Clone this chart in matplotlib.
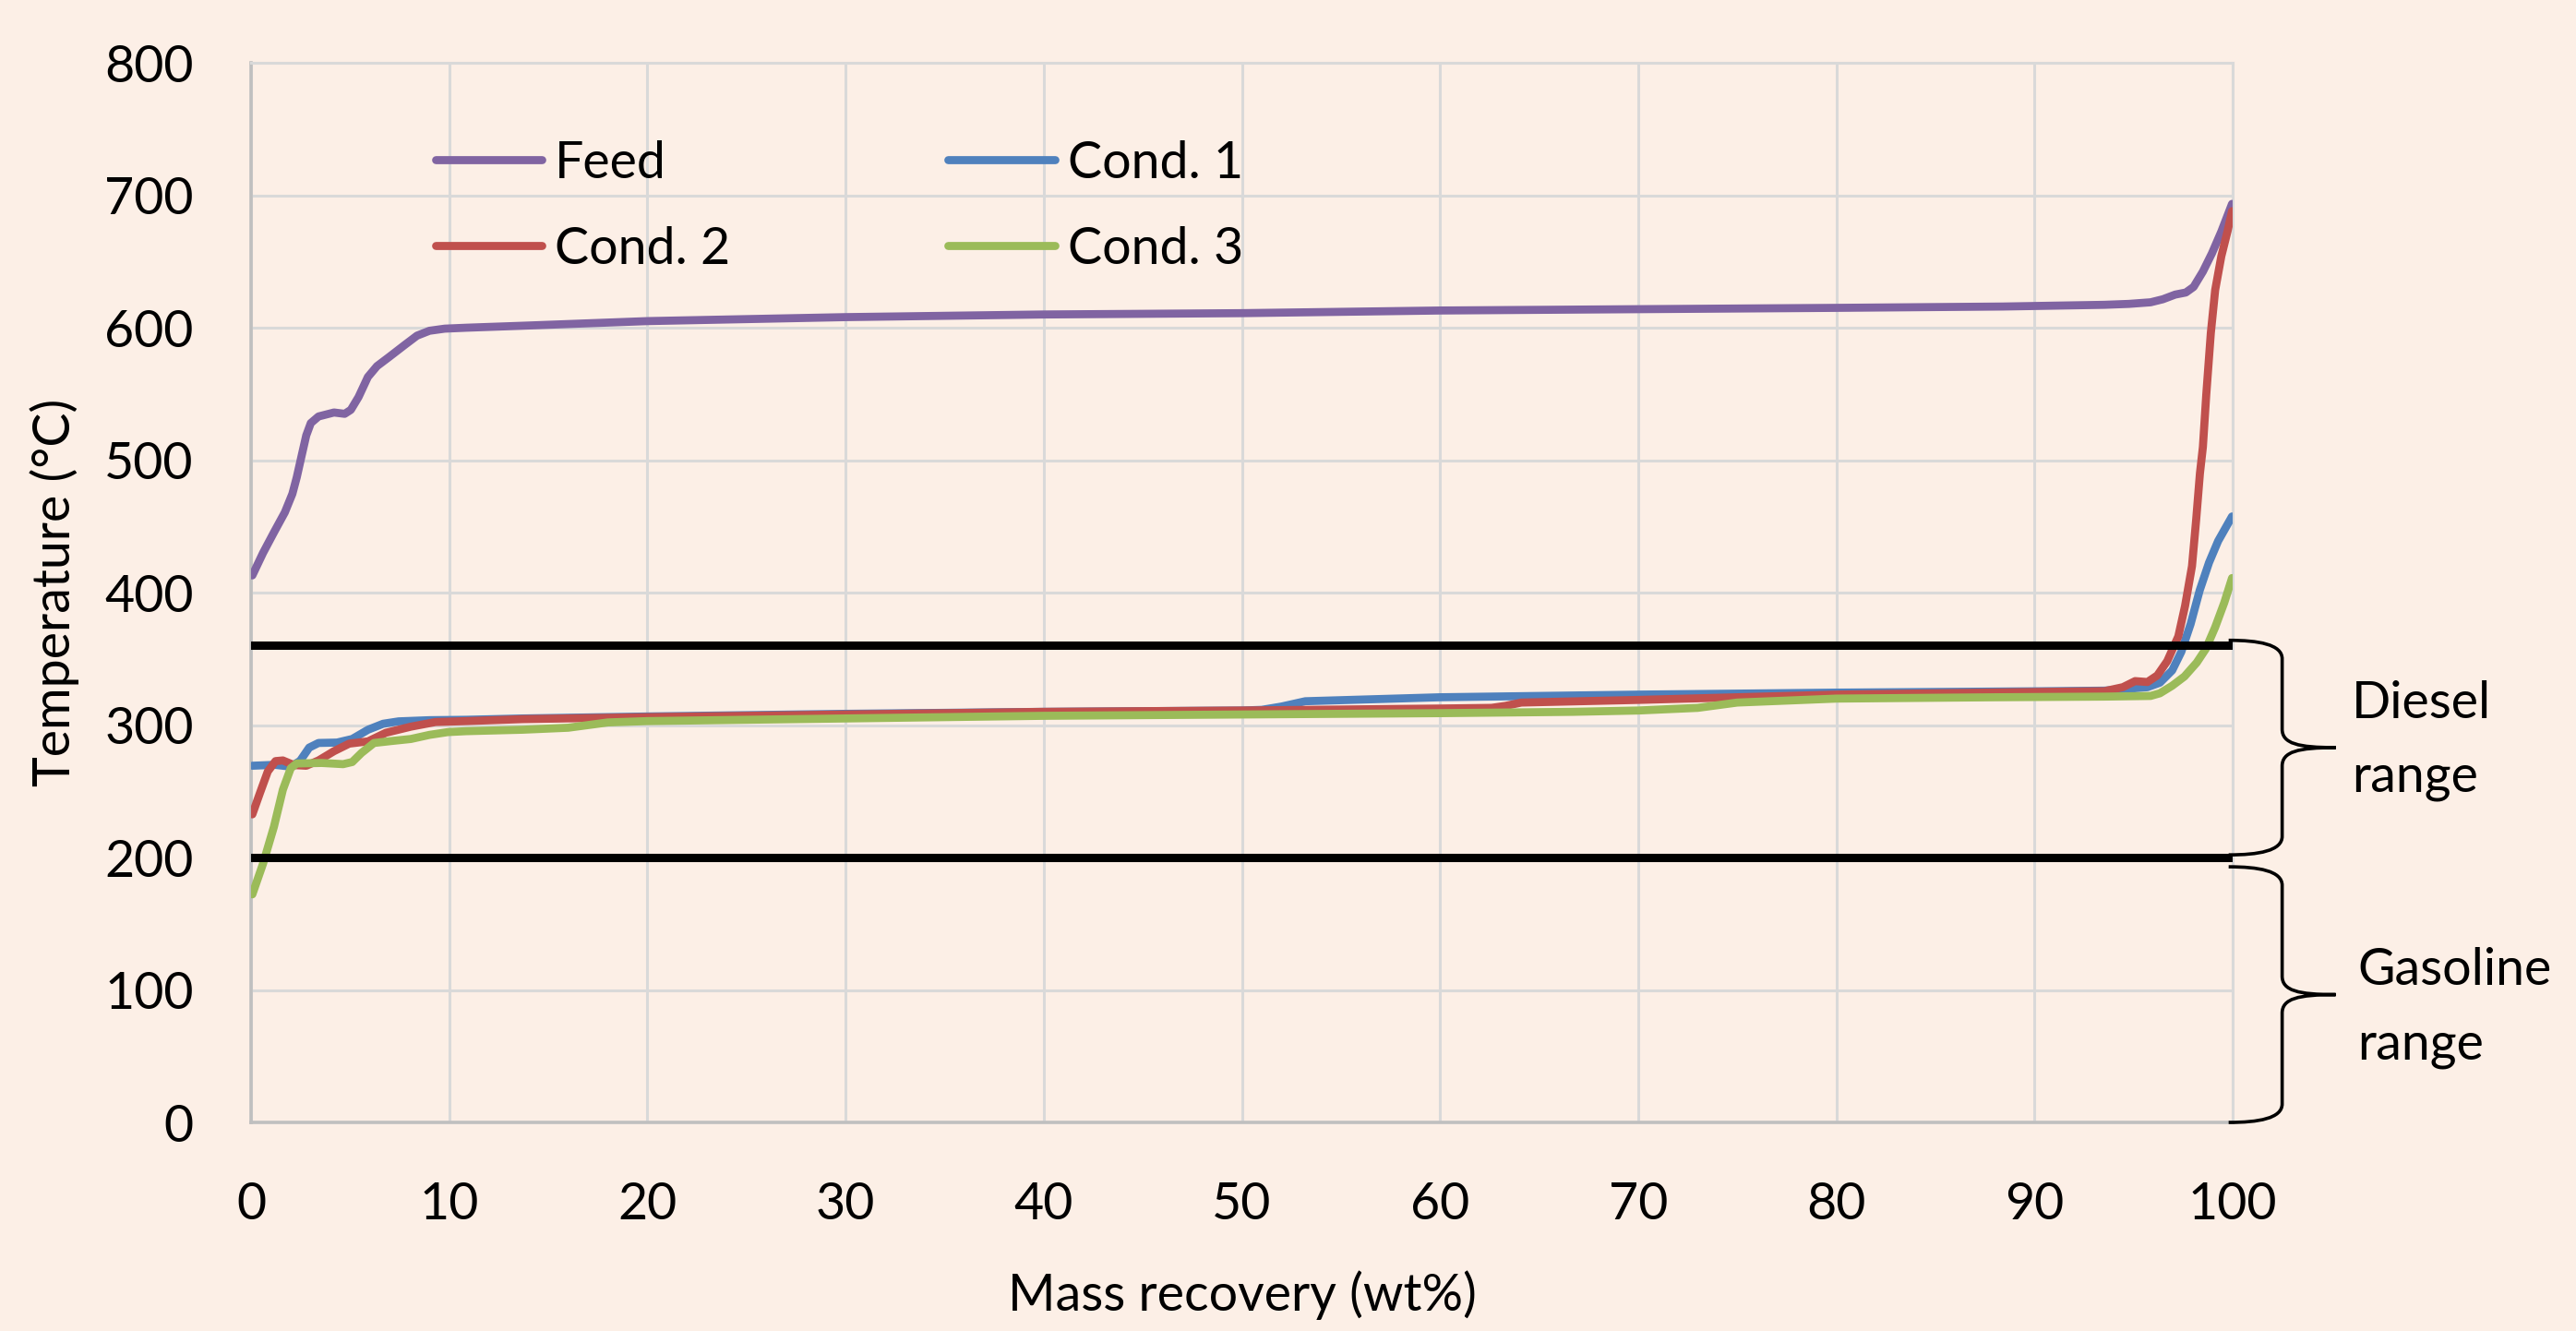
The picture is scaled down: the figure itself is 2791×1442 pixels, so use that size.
import numpy as np
import matplotlib
matplotlib.use("Agg")
import matplotlib.pyplot as plt
from matplotlib.path import Path
from matplotlib.patches import PathPatch

plt.rcParams['font.family'] = ['Lato', 'DejaVu Sans']

# ---------------- data ----------------
feed_x = [0.06, 0.6, 1.15, 1.7, 2.08, 2.3, 2.55, 2.78, 3.01, 3.4, 4.18, 4.72, 5.03, 5.42, 5.89,
          6.35, 6.97, 7.75, 8.37, 9.0, 9.77, 10.85, 13.7, 20, 30, 40, 50, 60, 70, 80, 88.4,
          93.53, 94.77, 95.86, 96.48, 97.1, 97.64, 98.03, 98.5, 98.96, 99.43, 99.97]
feed_y = [413, 430, 445.5, 460.6, 474.6, 487, 503.6, 518.7, 528, 533, 536, 535, 538, 547.7, 562.8,
          571, 578, 587, 594, 597.7, 599.3, 600, 601.5, 605, 608, 610, 611, 613, 614, 615, 616,
          617.3, 618, 619.2, 621.5, 625, 626.6, 630.8, 642.4, 656.3, 672.6, 693.5]

c1_x = [0.06, 1.2, 2.0, 2.47, 2.93, 3.4, 4.33, 5.1, 5.9, 6.66, 7.44, 9.0, 10.85, 13.7, 20, 30,
        40, 50, 51.0, 52.0, 53.2, 60, 70, 80, 90, 93.53, 95.7, 96.33, 96.95, 97.41, 97.88,
        98.34, 98.81, 99.27, 99.97]
c1_y = [269.3, 270, 268.6, 273, 283, 286.5, 286.8, 289.5, 296.5, 301, 302.8, 303.7, 304, 305, 306.5,
        308.5, 310, 311, 311.5, 314, 318, 321, 323, 324.5, 325.5, 326, 328.6, 332, 341.3, 355.3,
        376.3, 401.8, 422.7, 439, 457.5]

c2_x = [0.06, 0.45, 0.84, 1.23, 1.6, 2.16, 2.78, 3.4, 4.18, 4.95, 5.9, 6.8, 8.06, 9.3, 10.85,
        13.7, 20, 30, 40, 50, 60, 62.6, 63.3, 64.1, 70, 80, 90, 93.53, 94.46, 95.08, 95.7, 96.2,
        96.7, 97.26, 97.6, 97.95, 98.16, 98.35, 98.5, 98.67, 98.9, 99.12, 99.43, 99.74, 99.97]
c2_y = [232.6, 249, 265, 272.8, 273.3, 269.8, 269.3, 273.3, 280.3, 286, 287.7, 294.2, 298.8, 302.3,
        303, 304.5, 306, 308, 310, 311, 312.5, 313, 314.5, 317, 319, 323, 325, 325.6, 328.6, 333.2,
        332.5, 337.5, 348.3, 367, 390, 420, 455, 490, 510, 549.5, 596, 628.5, 654, 672.6, 688]

c3_x = [0.06, 0.6, 1.15, 1.6, 2.0, 2.3, 3.56, 4.64, 5.1, 5.57, 6.2, 7.1, 8.06, 9.0, 9.92, 10.85,
        13.7, 16, 17, 18, 20, 30, 40, 50, 60, 66.7, 70, 73, 74, 75, 80, 88, 93.53, 95.86, 96.33,
        96.95, 97.57, 98.19, 98.65, 99.12, 99.58, 99.97]
c3_y = [172.2, 195.4, 223.3, 251.2, 267.5, 271, 271.4, 270.5, 272.1, 279, 286.5, 288, 289.5, 292.6,
        294.7, 295.4, 296.5, 298, 300, 302, 303, 305, 307, 308, 309, 310, 311, 313, 315, 317, 320,
        321, 321.5, 322, 324, 329.7, 336.7, 347.2, 357.6, 373.9, 392.5, 411]

series_names = ['Feed', 'Cond. 1', 'Cond. 2', 'Cond. 3']
series_colors = ['#8064A2', '#4F81BD', '#C0504D', '#9BBB59']

range_limits = [200, 360]          # black horizontal lines (°C)
diesel_brace = (202, 364)
gasoline_brace = (0, 193)

x_ticks = list(range(0, 101, 10))
y_ticks = list(range(0, 801, 100))

# ---------------- figure ----------------
bg = '#FCEFE6'
fig = plt.figure(figsize=(27.91, 14.42), dpi=100)
fig.patch.set_facecolor(bg)
ax = fig.add_axes([0.0975, 0.1567, 0.8667 - 0.0975, 0.9528 - 0.1567])
ax.set_facecolor(bg)

FS = 40
lw = 6.3
for xs, ys, name, col in zip([feed_x, c1_x, c2_x, c3_x], [feed_y, c1_y, c2_y, c3_y],
                             series_names, series_colors):
    ax.plot(xs, ys, color=col, lw=lw, label=name, solid_capstyle='round',
            solid_joinstyle='round', zorder=3)

for v in range_limits:
    ax.plot([0, 100], [v, v], color='black', lw=6.5, solid_capstyle='round', zorder=4)

ax.set_xlim(0, 100)
ax.set_ylim(0, 800)
ax.set_xticks(x_ticks)
ax.set_yticks(y_ticks)
ax.tick_params(axis='both', length=0, labelsize=FS)
ax.tick_params(axis='y', pad=45)
ax.tick_params(axis='x', pad=46)
ax.grid(True, color='#D9D9D9', lw=2.2, zorder=0)
ax.set_axisbelow(True)
for s in ['left', 'bottom']:
    ax.spines[s].set_color('#BFBFBF')
    ax.spines[s].set_linewidth(2.6)
for s in ['top', 'right']:
    ax.spines[s].set_color('#D9D9D9')
    ax.spines[s].set_linewidth(2.2)

ax.set_xlabel('Mass recovery (wt%)', fontsize=FS, va='center')
ax.xaxis.set_label_coords(0.5, -0.163)
ax.set_ylabel('Temperature (°C)', fontsize=FS, va='center')
ax.yaxis.set_label_coords(-0.099, 0.5)

handles, labels = ax.get_legend_handles_labels()
order = [0, 2, 1, 3]
leg = ax.legend([handles[i] for i in order], [labels[i] for i in order],
                ncol=2, loc='upper left', bbox_to_anchor=(0.093, 0.927), frameon=False,
                fontsize=FS, handlelength=2.08, handletextpad=0.25, columnspacing=4.25,
                labelspacing=0.75, borderpad=0, borderaxespad=0)
for h in leg.get_lines():
    h.set_linewidth(lw)
    h.set_solid_capstyle('round')


def brace(lo, hi):
    xs, xv, xt = 99.8, 102.5, 105.2
    mid = (lo + hi) / 2.0
    r = 14
    verts = [(xs, hi), (xv - 1.2, hi), (xv, hi - 3), (xv, hi - r),
             (xv, mid + r),
             (xv, mid + 3), (xv + 0.8, mid), (xt, mid),
             (xt, mid), (xv + 0.8, mid), (xv, mid - 3), (xv, mid - r),
             (xv, lo + r),
             (xv, lo + 3), (xv - 1.2, lo), (xs, lo)]
    codes = [Path.MOVETO, Path.CURVE4, Path.CURVE4, Path.CURVE4,
             Path.LINETO,
             Path.CURVE4, Path.CURVE4, Path.CURVE4,
             Path.MOVETO, Path.CURVE4, Path.CURVE4, Path.CURVE4,
             Path.LINETO,
             Path.CURVE4, Path.CURVE4, Path.CURVE4]
    p = PathPatch(Path(verts, codes), fill=False, edgecolor='black', lw=2.6,
                  transform=ax.transData, clip_on=False, zorder=5)
    ax.add_patch(p)


brace(*diesel_brace)
brace(*gasoline_brace)

ax.text(106.0, 305, 'Diesel', fontsize=FS, ha='left', va='baseline', clip_on=False)
ax.text(106.0, 250, 'range', fontsize=FS, ha='left', va='baseline', clip_on=False)
ax.text(106.3, 104, 'Gasoline', fontsize=FS, ha='left', va='baseline', clip_on=False)
ax.text(106.3, 48, 'range', fontsize=FS, ha='left', va='baseline', clip_on=False)

fig.savefig('out.png', dpi=100, facecolor=bg)
